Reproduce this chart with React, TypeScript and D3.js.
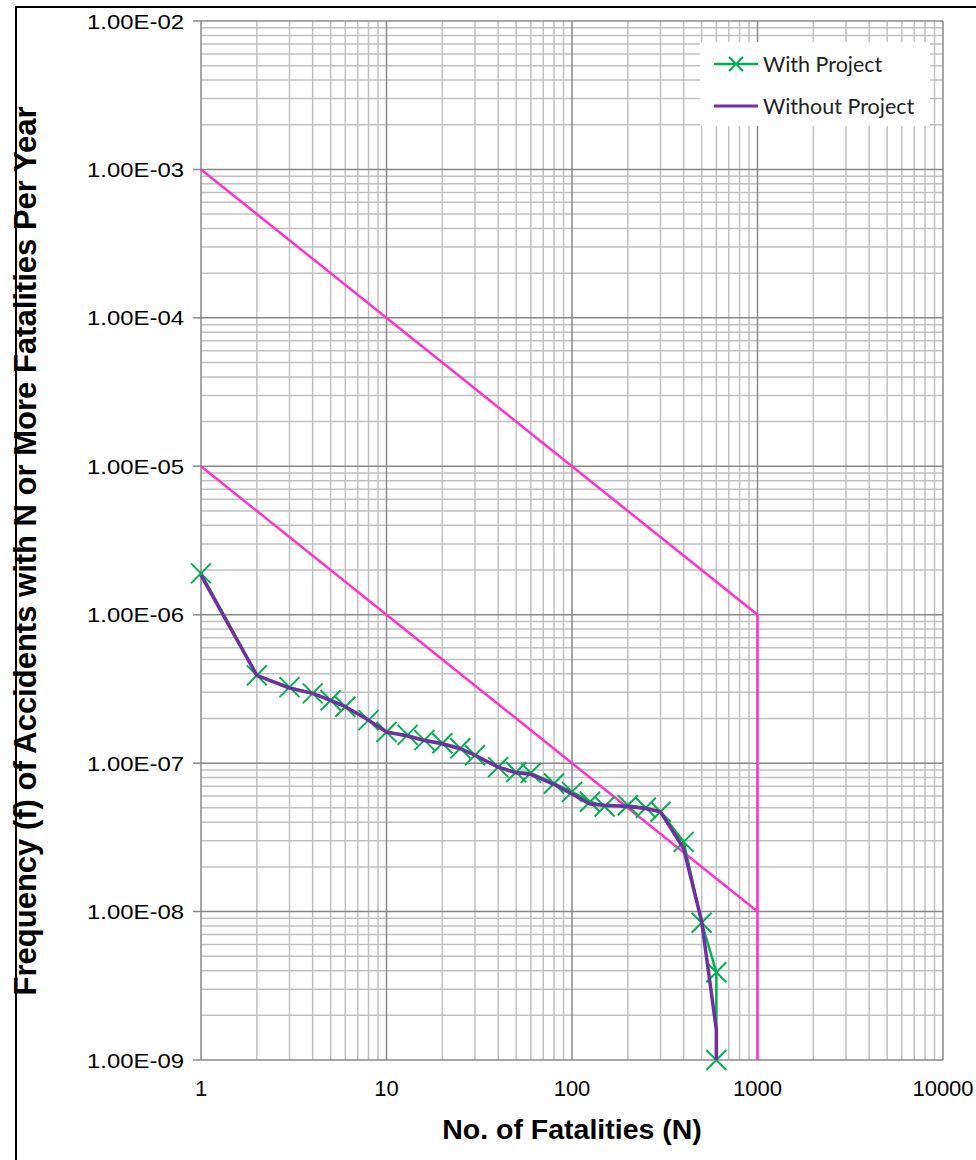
import React from 'react';
import { scaleLog, line, range } from 'd3';

// chart values
const withN = [1, 2, 3, 4, 5, 6, 8, 10, 13, 16, 20, 25, 30, 40, 50, 60, 80, 100, 125, 150, 200, 250, 300, 400, 500, 600, 600];
const withF = [1.9e-6, 3.9e-7, 3.25e-7, 2.95e-7, 2.65e-7, 2.4e-7, 1.95e-7, 1.62e-7, 1.55e-7, 1.43e-7, 1.36e-7, 1.26e-7, 1.13e-7, 9.4e-8, 8.7e-8, 8.6e-8, 7.3e-8, 6.4e-8, 5.5e-8, 5.1e-8, 5.2e-8, 5.0e-8, 4.7e-8, 2.95e-8, 8.4e-9, 3.9e-9, 1e-9];
const withoutN = [1, 2, 3, 4, 5, 6, 8, 10, 13, 16, 20, 25, 30, 40, 50, 60, 80, 100, 125, 150, 200, 250, 300, 400, 500, 600, 600];
const withoutF = [1.85e-6, 3.9e-7, 3.2e-7, 2.95e-7, 2.65e-7, 2.4e-7, 1.95e-7, 1.62e-7, 1.52e-7, 1.42e-7, 1.35e-7, 1.25e-7, 1.13e-7, 9.4e-8, 8.6e-8, 8.4e-8, 7.2e-8, 6.2e-8, 5.3e-8, 5.2e-8, 5.1e-8, 4.95e-8, 4.7e-8, 2.65e-8, 8.6e-9, 1.6e-9, 1e-9];
const upperN = [1, 1000, 1000];
const upperF = [1e-3, 1e-6, 1e-9];
const lowerN = [1, 1000];
const lowerF = [1e-5, 1e-8];

const xTicks = [1, 10, 100, 1000, 10000];
const xTickLabels = ['1', '10', '100', '1000', '10000'];
const yTicks = [1e-2, 1e-3, 1e-4, 1e-5, 1e-6, 1e-7, 1e-8, 1e-9];
const yTickLabels = ['1.00E-02', '1.00E-03', '1.00E-04', '1.00E-05', '1.00E-06', '1.00E-07', '1.00E-08', '1.00E-09'];

const width = 976;
const height = 1160;
const plot = { left: 201, right: 943, top: 21, bottom: 1060 };

const GREEN = '#00b050';
const PURPLE = '#7030a0';
const PINK = '#ff33cc';
const axisFont = '"Liberation Sans", Arial, sans-serif';

const App = () => {
  const x = scaleLog().domain([1, 10000]).range([plot.left, plot.right]);
  const y = scaleLog().domain([1e-9, 1e-2]).range([plot.bottom, plot.top]);

  const xMinor: number[] = [];
  for (let d = 1; d < 10000; d *= 10) range(2, 10).forEach(k => xMinor.push(d * k));
  const yMinor: number[] = [];
  for (let d = 1e-9; d < 1e-2 * 0.999; d *= 10) range(2, 10).forEach(k => yMinor.push(d * k));

  const path = line<[number, number]>().x(d => x(d[0])).y(d => y(d[1]));
  const pts = (ns: number[], fs: number[]) => ns.map((n, i) => [n, fs[i]] as [number, number]);

  const cross = (cx: number, cy: number, r: number, key: any) => (
    <path key={key} d={`M${cx - r},${cy - r}L${cx + r},${cy + r}M${cx - r},${cy + r}L${cx + r},${cy - r}`}
      stroke={GREEN} strokeWidth={2} fill="none" />
  );

  return (
    <svg width={width} height={height} style={{ position: 'absolute', left: 0, top: 0, background: '#fff' }}>
      <rect x={0} y={0} width={width} height={height} fill="#fff" />
      <rect x={16} y={7} width={1100} height={1300} fill="none" stroke="#000" strokeWidth={2} />

      {/* minor grid */}
      {xMinor.map((v, i) => (
        <line key={'xm' + i} x1={x(v)} x2={x(v)} y1={plot.top} y2={plot.bottom} stroke="#c0c0c0" strokeWidth={1.5} />
      ))}
      {yMinor.map((v, i) => (
        <line key={'ym' + i} x1={plot.left} x2={plot.right} y1={y(v)} y2={y(v)} stroke="#c0c0c0" strokeWidth={1.5} />
      ))}
      {/* major grid */}
      {xTicks.map((v, i) => (
        <line key={'xM' + i} x1={x(v)} x2={x(v)} y1={plot.top} y2={plot.bottom} stroke="#888" strokeWidth={1.5} />
      ))}
      {yTicks.map((v, i) => (
        <line key={'yM' + i} x1={plot.left - 8} x2={plot.right} y1={y(v)} y2={y(v)} stroke="#888" strokeWidth={1.5} />
      ))}

      {/* tick labels */}
      {yTicks.map((v, i) => (
        <text key={'yl' + i} x={184} y={y(v)} dy="0.36em" textAnchor="end" fontFamily={axisFont} fontSize={21}
          textLength={97} lengthAdjust="spacingAndGlyphs" fill="#000">
          {yTickLabels[i]}
        </text>
      ))}
      {xTicks.map((v, i) => (
        <text key={'xl' + i} x={x(v)} y={1096} textAnchor="middle" fontFamily={axisFont} fontSize={22} fill="#000">
          {xTickLabels[i]}
        </text>
      ))}

      {/* criteria lines */}
      <path d={path(pts(upperN, upperF)) || ''} stroke={PINK} strokeWidth={2.5} fill="none" />
      <path d={path(pts(lowerN, lowerF)) || ''} stroke={PINK} strokeWidth={2.5} fill="none" />

      {/* series */}
      <path d={path(pts(withN, withF)) || ''} stroke={GREEN} strokeWidth={2.5} fill="none" />
      {withN.map((n, i) => cross(x(n), y(withF[i]), 10, 'm' + i))}
      <path d={path(pts(withoutN, withoutF)) || ''} stroke={PURPLE} strokeWidth={3.5} fill="none" strokeLinejoin="round" />

      {/* legend */}
      <rect x={700} y={42} width={230} height={84} fill="#fff" />
      <line x1={714} x2={758} y1={64} y2={64} stroke={GREEN} strokeWidth={2.5} />
      {cross(736, 64, 7, 'lg')}
      <text x={763} y={64} dy="0.35em" fontFamily="Lato, sans-serif" fontSize={21.5} fill="#222">With Project</text>
      <line x1={714} x2={758} y1={106} y2={106} stroke={PURPLE} strokeWidth={3} />
      <text x={763} y={106} dy="0.35em" fontFamily="Lato, sans-serif" fontSize={21.5} fill="#222">Without Project</text>

      {/* axis titles */}
      <text x={572} y={1139} textAnchor="middle" fontFamily={axisFont} fontWeight="bold" fontSize={28.5} fill="#000">
        No. of Fatalities (N)
      </text>
      <text transform="translate(36,551) rotate(-90)" textAnchor="middle" fontFamily={axisFont} fontWeight="bold" fontSize={31} fill="#000">
        Frequency (f) of Accidents with N or More Fatalities Per Year
      </text>
    </svg>
  );
};

export default App;
